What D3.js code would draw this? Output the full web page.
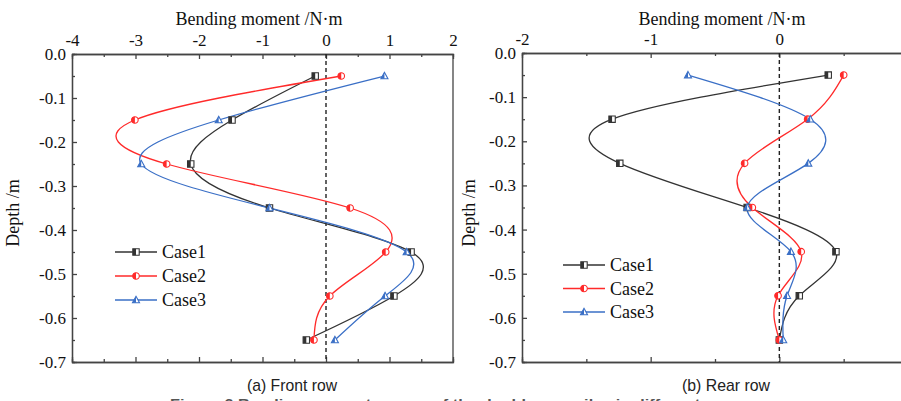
<!DOCTYPE html>
<html>
<head>
<meta charset="utf-8">
<script src="https://cdn.jsdelivr.net/npm/d3@7"></script>
<style>
  html, body { margin: 0; padding: 0; background: #fff; }
  svg { display: block; }
</style>
</head>
<body>
<div id="chart"></div>
<script>
// depth of the measuring points (m)
const depths = [-0.05, -0.15, -0.25, -0.35, -0.45, -0.55, -0.65];

// bending moment, front row (N·m)
const frontCase1 = [-0.17, -1.48, -2.13, -0.89, 1.34, 1.07, -0.31];
const frontCase2 = [0.24, -3.01, -2.51, 0.38, 0.94, 0.06, -0.19];
const frontCase3 = [0.92, -1.69, -2.91, -0.89, 1.27, 0.93, 0.14];

// bending moment, rear row (N·m)
const rearCase1 = [0.38, -1.30, -1.24, -0.25, 0.44, 0.155, 0.0];
const rearCase2 = [0.50, 0.22, -0.27, -0.21, 0.17, -0.01, 0.0];
const rearCase3 = [-0.71, 0.24, 0.225, -0.25, 0.09, 0.06, 0.03];

const caseNames = ["Case1", "Case2", "Case3"];
const depthTicks = [0, -0.1, -0.2, -0.3, -0.4, -0.5, -0.6, -0.7];
const frontTicks = [-4, -3, -2, -1, 0, 1, 2];
const rearTicks = [-2, -1, 0];   // "1" sits past the right edge of the picture

const colors = ["#333333", "#ff2a2a", "#3a6fc6"];
const shapes = ["square", "circle", "triangle"];

const W = 901, H = 401;
const svg = d3.select("#chart").append("svg")
    .attr("width", W).attr("height", H)
    .attr("viewBox", `0 0 ${W} ${H}`);

const serif = '"Liberation Serif", "DejaVu Serif", serif';
const sans = '"Liberation Sans", Arial, sans-serif';

// outline + left half of an Origin-style half filled marker
function markerPaths(shape, r) {
    if (shape === "square") {
        return [`M${-r},${-r}H${r}V${r}H${-r}Z`, `M${-r},${-r}H0V${r}H${-r}Z`];
    }
    if (shape === "circle") {
        return [`M${-r},0A${r},${r} 0 1,1 ${r},0A${r},${r} 0 1,1 ${-r},0Z`,
                `M0,${-r}A${r},${r} 0 0,0 0,${r}Z`];
    }
    const h = r * 1.15;
    return [`M0,${-h}L${r * 1.1},${h * 0.75}H${-r * 1.1}Z`, `M0,${-h}V${h * 0.75}H${-r * 1.1}Z`];
}

function drawMarker(g, shape, color, cx, cy) {
    const [outline, half] = markerPaths(shape, shape === "circle" ? 3.3 : 3.2);
    const m = g.append("g").attr("transform", `translate(${cx},${cy})`);
    m.append("path").attr("d", outline).attr("fill", "#fff")
        .attr("stroke", color).attr("stroke-width", 1.1);
    m.append("path").attr("d", half).attr("fill", color);
}

function drawPanel(p) {
    const x = d3.scaleLinear().domain(p.xDomain).range([p.left, p.right]);
    const y = d3.scaleLinear().domain([0, -0.7]).range([p.top, p.bottom]);
    const g = svg.append("g");

    // minor ticks
    const minorX = d3.range(p.xDomain[0] + 0.5, p.xDomain[1], 1);
    const minorY = d3.range(-0.05, -0.7, -0.1);
    g.append("g").attr("transform", `translate(0,${p.top})`)
        .call(d3.axisTop(x).tickValues(minorX).tickSize(-3).tickFormat(""));
    g.append("g").attr("transform", `translate(0,${p.bottom})`)
        .call(d3.axisBottom(x).tickValues(minorX).tickSize(-3).tickFormat(""));
    g.append("g").attr("transform", `translate(${p.left},0)`)
        .call(d3.axisLeft(y).tickValues(minorY).tickSize(-3).tickFormat(""));

    // major axes
    g.append("g").attr("transform", `translate(0,${p.top})`)
        .call(d3.axisTop(x).tickValues(p.xTicks).tickSizeInner(-5).tickSizeOuter(0)
            .tickPadding(8).tickFormat(d => String(d)));
    g.append("g").attr("transform", `translate(0,${p.bottom})`)
        .call(d3.axisBottom(x).tickValues(p.xTicks).tickSizeInner(-5).tickSizeOuter(0)
            .tickFormat(""));
    g.append("g").attr("transform", `translate(${p.left},0)`)
        .call(d3.axisLeft(y).tickValues(depthTicks).tickSizeInner(-5).tickSizeOuter(0)
            .tickPadding(6).tickFormat(d => d.toFixed(1)));
    g.append("line")
        .attr("x1", p.right).attr("x2", p.right)
        .attr("y1", p.top).attr("y2", p.bottom);

    g.selectAll(".domain, line").attr("stroke", "#444").attr("stroke-width", 1.3);
    g.selectAll(".tick text")
        .style("font-family", serif).style("font-size", "17px").attr("fill", "#111");

    // zero line
    g.append("line")
        .attr("x1", x(0)).attr("x2", x(0))
        .attr("y1", p.top).attr("y2", p.bottom)
        .attr("stroke", "#222").attr("stroke-width", 1.4)
        .attr("stroke-dasharray", "4,3");

    // curves
    const line = d3.line().x(d => x(d.m)).y(d => y(d.d)).curve(d3.curveNatural);
    p.series.forEach((vals, i) => {
        const pts = vals.map((m, k) => ({ m, d: depths[k] }));
        g.append("path").datum(pts)
            .attr("d", line)
            .attr("fill", "none")
            .attr("stroke", colors[i])
            .attr("stroke-width", 1.3);
    });
    p.series.forEach((vals, i) => {
        vals.forEach((m, k) => drawMarker(g, shapes[i], colors[i], x(m), y(depths[k])));
    });

    // axis titles
    g.append("text")
        .attr("x", p.titleX).attr("y", 25)
        .attr("text-anchor", "middle")
        .style("font-family", serif).style("font-size", "18px").attr("fill", "#111")
        .text("Bending moment /N·m");
    g.append("text")
        .attr("transform", `translate(${p.yLabelX},213) rotate(-90)`)
        .attr("text-anchor", "middle")
        .style("font-family", serif).style("font-size", "18px").attr("fill", "#111")
        .text("Depth /m");

    // legend
    caseNames.forEach((name, i) => {
        const ly = p.legendY + i * p.legendGap;
        g.append("line")
            .attr("x1", p.legendX).attr("x2", p.legendX + 42)
            .attr("y1", ly).attr("y2", ly)
            .attr("stroke", colors[i]).attr("stroke-width", 1.3);
        drawMarker(g, shapes[i], colors[i], p.legendX + 21, ly);
        g.append("text")
            .attr("x", p.legendX + 47).attr("y", ly + 6)
            .style("font-family", serif).style("font-size", "18px").attr("fill", "#111")
            .text(name);
    });

    // panel caption
    g.append("text")
        .attr("x", p.capX).attr("y", 391)
        .attr("text-anchor", "middle")
        .style("font-family", sans).style("font-size", "17px").attr("fill", "#222")
        .attr("textLength", p.capW).attr("lengthAdjust", "spacingAndGlyphs")
        .text(p.caption);
}

drawPanel({
    xDomain: [-4, 2], xTicks: frontTicks,
    left: 72, right: 453, top: 54, bottom: 362,
    series: [frontCase1, frontCase2, frontCase3],
    titleX: 259, yLabelX: 19,
    legendX: 115, legendY: 252, legendGap: 24,
    caption: "(a) Front row", capX: 292, capW: 90
});

drawPanel({
    xDomain: [-2, 1], xTicks: rearTicks,
    left: 522, right: 908, top: 53, bottom: 362,
    series: [rearCase1, rearCase2, rearCase3],
    titleX: 722, yLabelX: 475,
    legendX: 563, legendY: 265, legendGap: 23.5,
    caption: "(b) Rear row", capX: 726, capW: 88
});

// figure caption, cut off by the bottom edge as in the source
svg.append("text")
    .attr("x", 170).attr("y", 408)
    .style("font-family", sans).style("font-size", "13px").style("font-weight", "bold")
    .attr("fill", "#555")
    .attr("textLength", 580).attr("lengthAdjust", "spacingAndGlyphs")
    .text("Figure 6 Bending moment curves of the double-row piles in different cases");
</script>
</body>
</html>
